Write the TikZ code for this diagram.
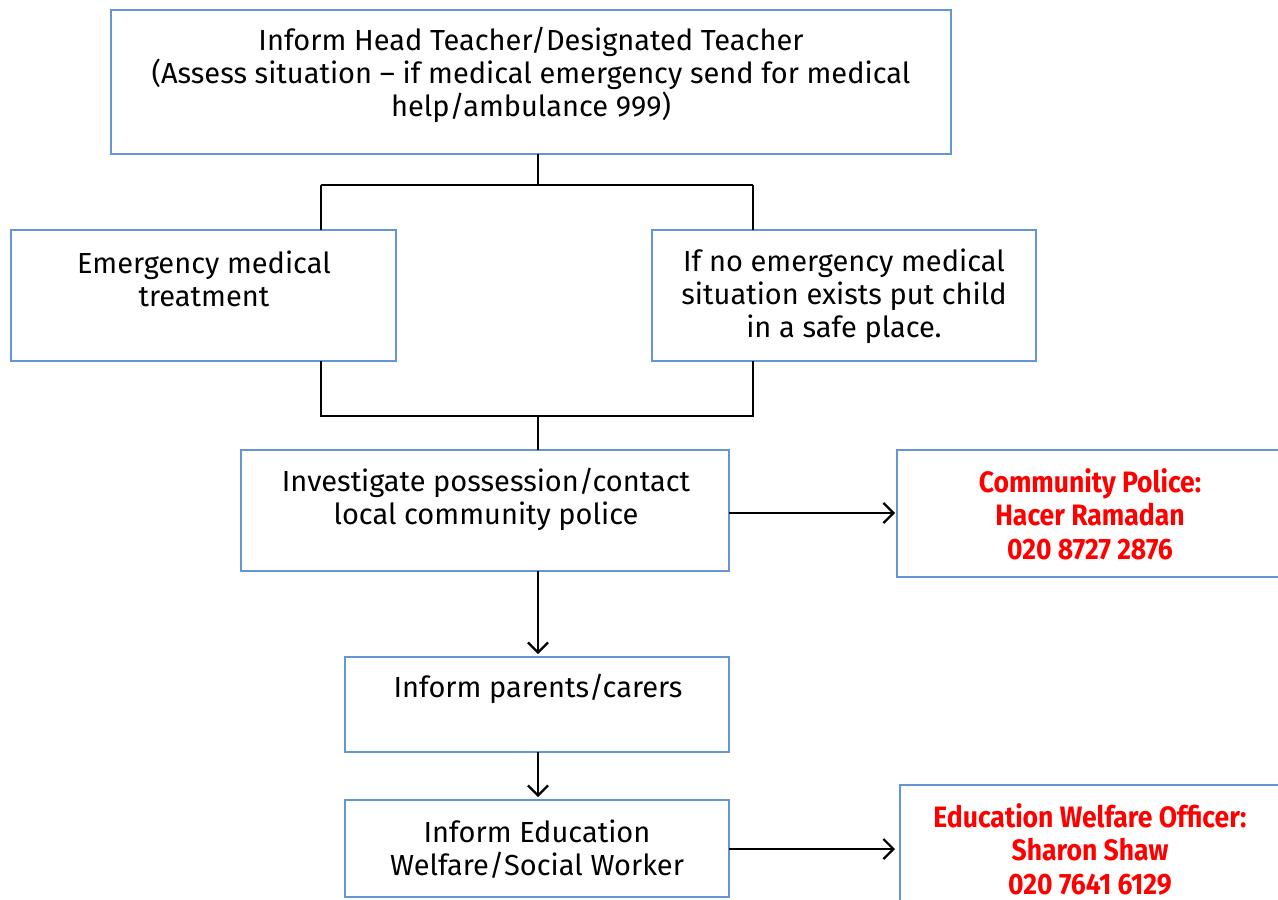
\documentclass[tikz,border=0pt]{standalone}
\usepackage{fontspec}
\setmainfont{Fira Sans}
\newfontfamily\redfont[FakeStretch=0.9]{Fira Sans}
\usetikzlibrary{arrows.meta}
\definecolor{boxblue}{RGB}{100,150,215}
\definecolor{alertred}{RGB}{255,0,0}
\tikzset{
  x=1pt,y=-1pt,
  flowbox/.style={draw=boxblue,line width=1.6pt,minimum width=#1,inner sep=0pt},
  boxtext/.style={align=center,font=\fontsize{29}{33}\selectfont,inner sep=0pt},
  redtext/.style={align=center,font=\redfont\bfseries\fontsize{29.5}{33.5}\selectfont,text=alertred,inner sep=0pt},
  link/.style={draw=black,line width=1.2pt},
  flowarrow/.style={draw=black,line width=2.8pt,-{Straight Barb[length=10pt,width=20pt,line width=2.2pt]}}
}
\begin{document}
\begin{tikzpicture}
\useasboundingbox (0,0) rectangle (1278,900);
% boxes
\path[flowbox] (111,10) rectangle (951,154);
\node[inner sep=0pt] (top) at (531,82) [minimum width=840pt,minimum height=144pt] {};
\path[flowbox] (11,230) rectangle (396,361);
\node[inner sep=0pt,minimum width=385pt,minimum height=131pt] (left) at (203.5,295.5) {};
\path[flowbox] (652,230) rectangle (1036,361);
\node[inner sep=0pt,minimum width=384pt,minimum height=131pt] (right) at (844,295.5) {};
\path[flowbox] (241,450) rectangle (729,571);
\node[inner sep=0pt,minimum width=488pt,minimum height=121pt] (inv) at (485,510.5) {};
\path[flowbox] (897,450) rectangle (1290,577);
\node[inner sep=0pt,minimum width=393pt,minimum height=127pt] (police) at (1093.5,513.5) {};
\path[flowbox] (345,657) rectangle (729,752);
\node[inner sep=0pt,minimum width=384pt,minimum height=95pt] (parents) at (537,704.5) {};
\path[flowbox] (345,800) rectangle (729,897);
\node[inner sep=0pt,minimum width=384pt,minimum height=97pt] (inform) at (537,848.5) {};
\path[flowbox] (900,785) rectangle (1290,920);
\node[inner sep=0pt,minimum width=390pt,minimum height=135pt] (ewo) at (1095,852.5) {};
% texts
\node[boxtext] (t1) at (531,75) {Inform Head Teacher/Designated Teacher\\(Assess situation -- if medical emergency send for medical\\help/ambulance 999)};
\node[boxtext] (t2) at (204,279) {Emergency medical\\treatment};
\node[boxtext] (t3) at (844,296) {If no emergency medical\\situation exists put child\\in a safe place.};
\node[boxtext] (t4) at (486,499) {Investigate possession/contact\\local community police};
\node[redtext] (t5) at (1090,514) {Community Police:\\Hacer Ramadan\\020 8727 2876};
\node[boxtext] (t6) at (538,689) {Inform parents/carers};
\node[boxtext] (t7) at (537,849) {Inform Education\\Welfare/Social Worker};
\node[redtext] (t8) at (1090,849) {Education Welfare Officer:\\Sharon Shaw\\020 7641 6129};
% connectors
\coordinate (j1) at (538,185);
\coordinate (j2) at (538,416);
\draw[link] (top.south -| j1) -- (j1);
\draw[link] (321,185) -- (753,185);
\draw[link] (321,185) -- (321,230);
\draw[link] (753,185) -- (753,230);
\draw[link] (321,361) -- (321,416) -- (753,416) -- (753,361);
\draw[link] (j2) -- (inv.north -| j2);
\draw[flowarrow] (inv.east |- 0,513) -- (895,513);
\draw[flowarrow] (inv.south -| j2) -- (538,654);
\draw[flowarrow] (parents.south -| j2) -- (538,797);
\draw[flowarrow] (inform.east |- 0,849) -- (895,849);
\end{tikzpicture}
\end{document}
